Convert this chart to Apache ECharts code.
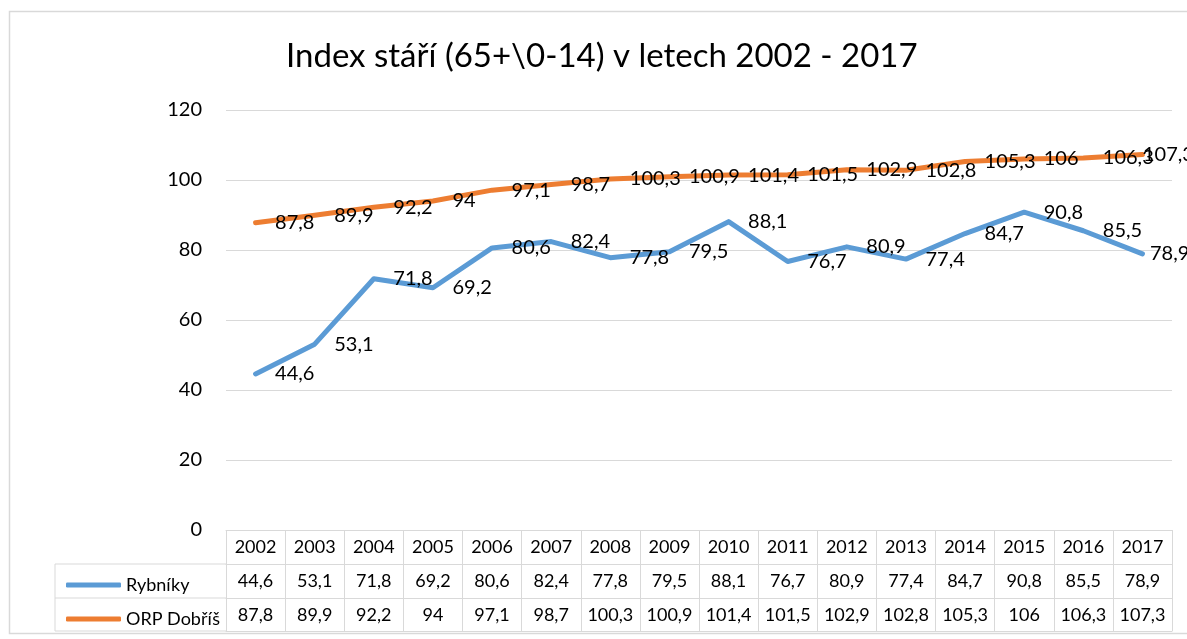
<!DOCTYPE html>
<html>
<head>
<meta charset="utf-8">
<script src="https://cdn.jsdelivr.net/npm/echarts@6/dist/echarts.min.js"></script>
<style>
  html, body { margin: 0; padding: 0; background: #fff; }
  #chart { width: 1187px; height: 639px; }
</style>
</head>
<body>
<div id="chart"></div>
<script>
/* Index stáří — line chart with data table */

const years = ["2002", "2003", "2004", "2005", "2006", "2007", "2008", "2009",
  "2010", "2011", "2012", "2013", "2014", "2015", "2016", "2017"];
const rybniky = [44.6, 53.1, 71.8, 69.2, 80.6, 82.4, 77.8, 79.5,
  88.1, 76.7, 80.9, 77.4, 84.7, 90.8, 85.5, 78.9];
const orpDobris = [87.8, 89.9, 92.2, 94, 97.1, 98.7, 100.3, 100.9,
  101.4, 101.5, 102.9, 102.8, 105.3, 106, 106.3, 107.3];
const seriesNames = ["Rybníky", "ORP Dobříš"];
const yMin = 0, yMax = 120, yStep = 20;

const FONT = "Lato";
const GRID_COLOR = "#d9d9d9";
const BLUE = "#5b9bd5";
const ORANGE = "#ed7d31";

// czech decimal comma
const fmt = v => String(v).replace(".", ",");

const chart = echarts.init(document.getElementById("chart"));

function tableAxis(values, offset) {
  return {
    type: "category",
    data: years,
    position: "bottom",
    offset: offset,
    axisLine: {show: true, lineStyle: {color: GRID_COLOR, width: 1}},
    axisTick: {show: false},
    axisLabel: {
      show: !!values, interval: 0, margin: 8, fontSize: 18, fontFamily: FONT, color: "#000",
      formatter: (v, i) => values ? fmt(values[i]) : "",
    },
  };
}

// lastDist: excel pulls the last label back inside the plot
function lineSeries(name, values, color, lastDist) {
  const data = values.map((v, i) =>
    i === values.length - 1 ? {value: v, label: {distance: lastDist}} : v);
  return {
    name: name, type: "line", data: data,
    // tiny symbol so the labels render; hidden under the line
    symbol: "circle", symbolSize: 1, showSymbol: true,
    lineStyle: {color: color, width: 5, cap: "round", join: "round"},
    itemStyle: {color: color},
    label: {
      show: true, position: "right", distance: 19,
      fontSize: 20, fontFamily: FONT, color: "#000",
      formatter: p => fmt(p.value),
    },
  };
}

chart.setOption({
  animation: false,
  title: {
    text: "Index stáří (65+\\0-14) v letech 2002 - 2017",
    left: 281, top: 35,
    textStyle: {fontSize: 33, fontWeight: "normal", fontFamily: FONT, color: "#000"},
  },
  grid: {left: 226, right: 15, top: 110, bottom: 109, containLabel: false},
  legend: {
    data: seriesNames,
    orient: "vertical",
    left: 61, top: 571,
    itemWidth: 55, itemHeight: 5, itemGap: 16,
    icon: "roundRect",
    textStyle: {fontSize: 18, fontFamily: FONT, color: "#000"},
  },
  xAxis: [
    {
      type: "category",
      data: years,
      position: "bottom",
      axisLine: {show: true, lineStyle: {color: GRID_COLOR, width: 1}},
      axisTick: {show: true, interval: 0, length: 101, lineStyle: {color: GRID_COLOR, width: 1}},
      axisLabel: {interval: 0, margin: 8, fontSize: 18, fontFamily: FONT, color: "#000"},
    },
    tableAxis(rybniky, 34),
    tableAxis(orpDobris, 68),
    tableAxis(null, 101),
  ],
  yAxis: {
    type: "value",
    min: yMin, max: yMax, interval: yStep,
    axisLine: {show: false},
    axisTick: {show: false},
    axisLabel: {margin: 24, fontSize: 20, fontFamily: FONT, color: "#000"},
    splitLine: {lineStyle: {color: GRID_COLOR, width: 1}},
  },
  series: [
    lineSeries(seriesNames[0], rybniky, BLUE, 7),
    lineSeries(seriesNames[1], orpDobris, ORANGE, 0),
  ],
  graphic: [
    // outer chart frame
    {type: "rect", shape: {x: 9.5, y: 11.5, width: 1200, height: 622}, style: {fill: null, stroke: GRID_COLOR, lineWidth: 1.5}, silent: true},
    // legend column of the data table
    {type: "line", shape: {x1: 55, y1: 564, x2: 226, y2: 564}, style: {stroke: GRID_COLOR, lineWidth: 1}},
    {type: "line", shape: {x1: 55, y1: 598, x2: 226, y2: 598}, style: {stroke: GRID_COLOR, lineWidth: 1}},
    {type: "line", shape: {x1: 55, y1: 631, x2: 226, y2: 631}, style: {stroke: GRID_COLOR, lineWidth: 1}},
    {type: "line", shape: {x1: 55, y1: 564, x2: 55, y2: 631}, style: {stroke: GRID_COLOR, lineWidth: 1}},
  ],
});
</script>
</body>
</html>
